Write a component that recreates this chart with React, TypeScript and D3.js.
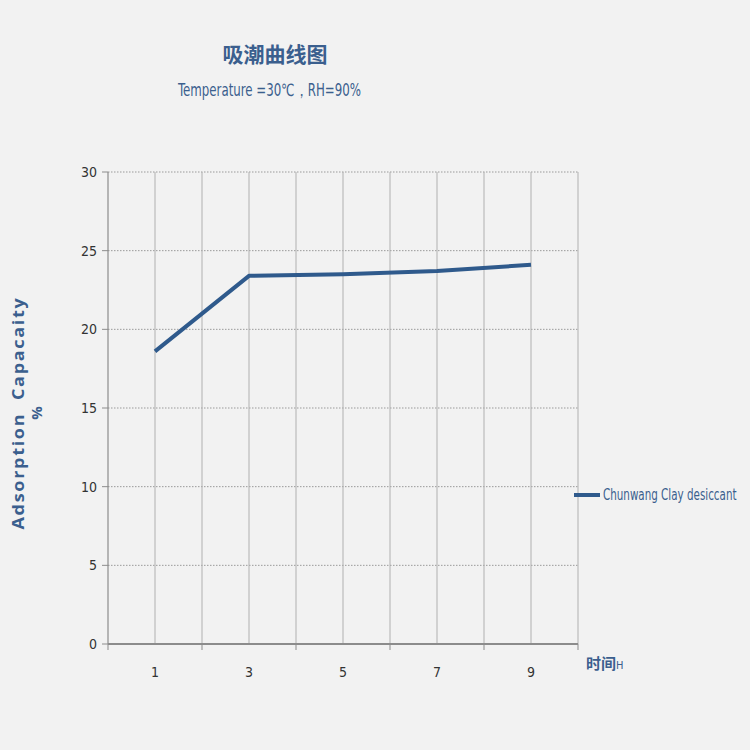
import React from 'react';
import * as d3 from 'd3';

const hours = ['1', '3', '5', '7', '9'];
const capacity = [18.6, 23.4, 23.5, 23.7, 24.1];
const yTicks = [0, 5, 10, 15, 20, 25, 30];

const seriesName = 'Chunwang Clay desiccant';
const title = '吸潮曲线图';
const subtitle = 'Temperature =30℃，RH=90%';

const W = 750;
const H = 750;
const margin = { top: 172, right: 172, bottom: 106, left: 108 };
const ink = '#3b5f8e';
const lineColor = '#2f5a8c';
const narrow = "'DejaVu Sans Condensed', 'Roboto', sans-serif";

export default function App() {
  const plotW = W - margin.left - margin.right;
  const plotH = H - margin.top - margin.bottom;

  const x = d3.scaleBand<string>().domain(hours).range([0, plotW]).padding(0);
  const y = d3.scaleLinear().domain([0, 30]).range([plotH, 0]);

  const cx = (d: string) => (x(d) ?? 0) + x.bandwidth() / 2;

  const line = d3
    .line<number>()
    .x((_, i) => cx(hours[i]))
    .y(d => y(d));

  // vertical grid at band edges and centres
  const edges = hours.map(h => x(h) ?? 0).concat([plotW]);
  const centres = hours.map(cx);

  return (
    <svg
      width={W}
      height={H}
      style={{ position: 'absolute', left: 0, top: 0, background: '#f2f2f2' }}
    >
      <rect width={W} height={H} fill="#f2f2f2" />

      <text x={275} y={62} textAnchor="middle" fontSize={21} fontWeight="bold"
        fill={ink} fontFamily="'Noto Sans CJK SC', sans-serif">{title}</text>
      <text x={178} y={96} fontSize={17} textLength={183} lengthAdjust="spacingAndGlyphs"
        fill={ink} fontFamily={narrow}>{subtitle}</text>

      <g transform={`translate(${margin.left},${margin.top})`}>
        {yTicks.filter(t => t > 0).map(t => (
          <line key={`h${t}`} x1={0} x2={plotW} y1={y(t)} y2={y(t)}
            stroke="#9a9a9a" strokeWidth={1} strokeDasharray="1.5,1.5" />
        ))}
        {edges.slice(1).concat(centres).map((v, i) => (
          <line key={`v${i}`} x1={v} x2={v} y1={0} y2={plotH}
            stroke="#b0b0b0" strokeWidth={1} />
        ))}

        {/* y axis */}
        <line x1={0} x2={0} y1={0} y2={plotH} stroke="#8c8c8c" strokeWidth={1.2} />
        {yTicks.map(t => (
          <g key={`yt${t}`} transform={`translate(0,${y(t)})`}>
            <line x1={-6} x2={0} stroke="#8c8c8c" />
            <text x={-11} dy="0.35em" textAnchor="end" fontSize={14}
              fill="#333" fontFamily={narrow}>{t}</text>
          </g>
        ))}

        {/* x axis */}
        <line x1={0} x2={plotW} y1={plotH} y2={plotH} stroke="#8c8c8c" strokeWidth={2} />
        {edges.map((v, i) => (
          <line key={`xt${i}`} x1={v} x2={v} y1={plotH} y2={plotH + 6} stroke="#8c8c8c" />
        ))}
        {hours.map(h => (
          <text key={`xl${h}`} x={cx(h)} y={plotH + 33} textAnchor="middle"
            fontSize={14} fill="#333" fontFamily={narrow}>{h}</text>
        ))}

        <path d={line(capacity) ?? ''} fill="none" stroke={lineColor}
          strokeWidth={4} strokeLinejoin="round" />
      </g>

      <text x={586} y={669} fill={ink} fontFamily="'Noto Sans CJK SC', sans-serif"
        fontWeight="bold" fontSize={15}>时间<tspan fontSize={11} fontWeight="normal"
          fontFamily={narrow}>H</tspan></text>

      {/* y axis title */}
      <g transform="translate(24,413) rotate(-90)">
        <text textAnchor="middle" fontSize={16} fontWeight="bold" fill={ink}
          letterSpacing={1.5} textLength={233} lengthAdjust="spacingAndGlyphs"
          fontFamily="'Open Sans', sans-serif" style={{ whiteSpace: 'pre' }}>
          {'Adsorption  Capacaity'}
        </text>
        <text y={18} textAnchor="middle" fontSize={15} fontWeight="bold" fill={ink}
          fontFamily="'Open Sans', sans-serif">%</text>
      </g>

      {/* legend */}
      <line x1={574} x2={600} y1={495} y2={495} stroke={lineColor} strokeWidth={4} />
      <g transform="translate(603,500) scale(0.75,1)">
        <text fontSize={15} fill={ink} textLength={178}
          lengthAdjust="spacingAndGlyphs" fontFamily={narrow}>{seriesName}</text>
      </g>
    </svg>
  );
}
